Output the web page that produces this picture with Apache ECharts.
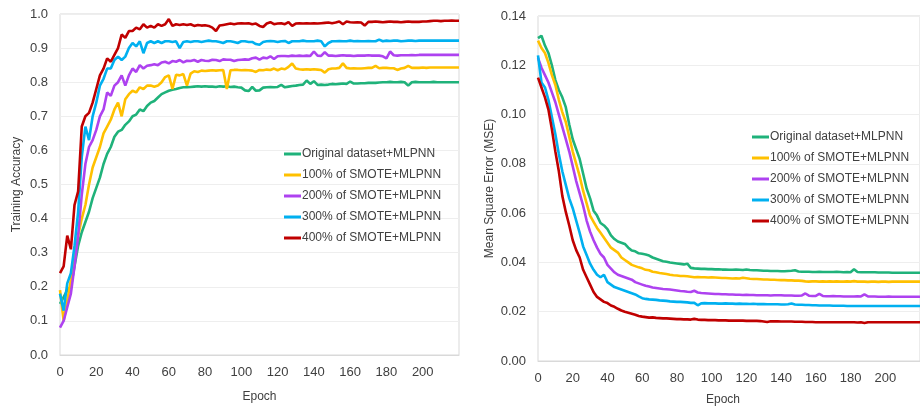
<!DOCTYPE html>
<html>
<head>
<meta charset="utf-8">
<script src="https://cdn.jsdelivr.net/npm/echarts@6/dist/echarts.min.js"></script>
<style>
html,body{margin:0;padding:0;background:#fff;}
#c{width:920px;height:408px;}
</style>
</head>
<body>
<div id="c"></div>
<script>
var seriesNames = ['Original dataset+MLPNN','100% of SMOTE+MLPNN','200% of SMOTE+MLPNN','300% of SMOTE+MLPNN','400% of SMOTE+MLPNN'];
var colors = ['#1FB27A','#FFC000','#AE42F0','#00B0F0','#C00000'];
var xTicks = [0,20,40,60,80,100,120,140,160,180,200];
var accTicks = [0.0,0.1,0.2,0.3,0.4,0.5,0.6,0.7,0.8,0.9,1.0];
var mseTicks = [0.00,0.02,0.04,0.06,0.08,0.10,0.12,0.14];

var epochs = [0,2,4,6,8,10,12,14,16,18,
20,22,24,26,28,30,32,34,36,38,
40,42,44,46,48,50,52,54,56,58,
60,62,64,66,68,70,72,74,76,78,
80,82,84,86,88,90,92,94,96,98,
100,102,104,106,108,110,112,114,116,118,
120,122,124,126,128,130,132,134,136,138,
140,142,144,146,148,150,152,154,156,158,
160,162,164,166,168,170,172,174,176,178,
180,182,184,186,188,190,192,194,196,198,
200,202,204,206,208,210,212,214,216,218,220];

var accOriginal = [0.15,0.17,0.19,0.20,0.26,0.32,0.36,0.39,0.42,0.46,
0.49,0.52,0.56,0.59,0.61,0.64,0.655,0.66,0.675,0.685,
0.70,0.705,0.72,0.715,0.73,0.74,0.745,0.755,0.765,0.77,
0.775,0.778,0.78,0.783,0.785,0.785,0.786,0.787,0.788,0.787,
0.788,0.787,0.787,0.786,0.788,0.787,0.788,0.786,0.787,0.785,
0.784,0.776,0.774,0.786,0.775,0.776,0.784,0.785,0.786,0.785,
0.786,0.792,0.785,0.787,0.789,0.79,0.792,0.793,0.805,0.795,
0.803,0.792,0.793,0.792,0.793,0.795,0.794,0.795,0.796,0.795,
0.802,0.796,0.796,0.797,0.797,0.798,0.798,0.798,0.799,0.8,
0.8,0.801,0.8,0.8,0.801,0.8,0.79,0.8,0.801,0.8,
0.8,0.8,0.8,0.801,0.8,0.8,0.8,0.8,0.8,0.8,0.8];
var acc100 = [0.19,0.10,0.16,0.22,0.30,0.35,0.40,0.44,0.50,0.55,
0.58,0.61,0.65,0.67,0.69,0.72,0.74,0.70,0.75,0.765,
0.775,0.77,0.785,0.78,0.79,0.79,0.787,0.79,0.80,0.815,
0.82,0.78,0.822,0.82,0.824,0.79,0.825,0.832,0.83,0.834,
0.833,0.834,0.835,0.834,0.835,0.836,0.78,0.835,0.836,0.836,
0.835,0.836,0.835,0.834,0.83,0.836,0.835,0.837,0.836,0.84,
0.835,0.84,0.838,0.845,0.855,0.84,0.838,0.837,0.838,0.837,
0.838,0.837,0.836,0.828,0.838,0.84,0.84,0.842,0.855,0.842,
0.84,0.841,0.84,0.84,0.841,0.842,0.842,0.848,0.841,0.842,
0.842,0.841,0.841,0.836,0.84,0.842,0.848,0.842,0.842,0.842,
0.843,0.842,0.843,0.843,0.843,0.843,0.843,0.843,0.843,0.843,0.843];
var acc200 = [0.08,0.10,0.14,0.18,0.26,0.35,0.47,0.56,0.61,0.63,
0.66,0.70,0.72,0.77,0.76,0.79,0.80,0.82,0.79,0.82,
0.84,0.83,0.85,0.84,0.848,0.85,0.853,0.85,0.858,0.86,
0.855,0.862,0.86,0.865,0.858,0.863,0.862,0.865,0.86,0.865,
0.863,0.862,0.866,0.865,0.862,0.867,0.866,0.866,0.862,0.865,
0.866,0.867,0.866,0.87,0.872,0.866,0.872,0.87,0.876,0.868,
0.876,0.877,0.877,0.876,0.878,0.877,0.878,0.877,0.878,0.877,
0.89,0.878,0.877,0.888,0.878,0.878,0.877,0.878,0.879,0.878,
0.878,0.877,0.878,0.878,0.878,0.879,0.878,0.878,0.878,0.876,
0.87,0.89,0.879,0.878,0.879,0.879,0.879,0.88,0.879,0.88,
0.88,0.88,0.88,0.88,0.88,0.88,0.88,0.88,0.88,0.88,0.88];
var acc300 = [0.18,0.13,0.21,0.24,0.32,0.42,0.58,0.67,0.63,0.70,
0.74,0.79,0.81,0.84,0.84,0.865,0.875,0.865,0.875,0.90,
0.915,0.905,0.92,0.885,0.915,0.92,0.915,0.92,0.915,0.92,
0.92,0.918,0.92,0.90,0.918,0.92,0.918,0.92,0.92,0.918,
0.92,0.922,0.92,0.92,0.918,0.915,0.92,0.92,0.918,0.915,
0.92,0.92,0.918,0.918,0.912,0.91,0.918,0.92,0.921,0.92,
0.918,0.92,0.921,0.915,0.92,0.92,0.92,0.922,0.92,0.92,
0.92,0.922,0.92,0.905,0.915,0.92,0.92,0.921,0.92,0.92,
0.922,0.92,0.921,0.92,0.92,0.921,0.92,0.92,0.925,0.92,
0.922,0.921,0.922,0.922,0.92,0.921,0.922,0.922,0.921,0.922,
0.922,0.922,0.922,0.922,0.922,0.922,0.922,0.922,0.922,0.922,0.922];
var acc400 = [0.24,0.26,0.35,0.31,0.44,0.48,0.67,0.70,0.71,0.74,
0.78,0.82,0.84,0.87,0.86,0.88,0.90,0.94,0.93,0.95,
0.95,0.96,0.955,0.97,0.96,0.965,0.96,0.97,0.965,0.97,
0.985,0.965,0.97,0.968,0.97,0.968,0.97,0.965,0.968,0.966,
0.967,0.965,0.96,0.95,0.966,0.968,0.97,0.972,0.97,0.972,
0.973,0.972,0.973,0.97,0.972,0.965,0.962,0.972,0.976,0.97,
0.972,0.973,0.97,0.976,0.965,0.972,0.973,0.972,0.973,0.972,
0.973,0.972,0.973,0.974,0.975,0.973,0.975,0.978,0.97,0.978,
0.976,0.975,0.976,0.975,0.966,0.977,0.977,0.978,0.977,0.976,
0.977,0.978,0.977,0.977,0.976,0.977,0.978,0.977,0.977,0.977,
0.978,0.978,0.979,0.98,0.98,0.979,0.98,0.98,0.981,0.98,0.98];

var mseOriginal = [0.131,0.132,0.128,0.125,0.12,0.114,0.11,0.107,0.103,0.096,
0.09,0.086,0.082,0.076,0.07,0.066,0.061,0.059,0.056,0.055,
0.0535,0.051,0.0495,0.0485,0.048,0.0475,0.046,0.0448,0.0445,0.0437,
0.0435,0.0432,0.0428,0.042,0.0415,0.041,0.0405,0.0403,0.04,0.0398,
0.0396,0.0394,0.0392,0.0395,0.0378,0.0376,0.0375,0.0374,0.0374,0.0373,
0.0373,0.0372,0.0372,0.0371,0.0371,0.037,0.037,0.0371,0.037,0.0369,
0.0371,0.0369,0.0368,0.0368,0.0367,0.0366,0.0366,0.0365,0.0365,0.0365,
0.0364,0.0364,0.0365,0.0366,0.0368,0.0363,0.0362,0.0362,0.0362,0.0361,
0.0361,0.0362,0.0361,0.0361,0.0361,0.0361,0.0362,0.0361,0.036,0.0361,
0.036,0.0372,0.0361,0.036,0.036,0.036,0.036,0.036,0.0359,0.0359,
0.0359,0.0359,0.0358,0.0358,0.0358,0.0358,0.0358,0.0358,0.0358,0.0358,0.0358];
var mse100 = [0.130,0.127,0.125,0.121,0.116,0.112,0.106,0.101,0.097,0.091,
0.085,0.080,0.075,0.069,0.064,0.059,0.0565,0.054,0.052,0.050,
0.048,0.046,0.045,0.044,0.042,0.041,0.040,0.039,0.0385,0.038,
0.0376,0.037,0.0368,0.0362,0.036,0.0357,0.0355,0.0353,0.035,0.0348,
0.0347,0.0345,0.0345,0.0344,0.0342,0.034,0.0341,0.034,0.034,0.0339,
0.034,0.0339,0.0338,0.0337,0.0337,0.0336,0.0335,0.0336,0.0335,0.0338,
0.0336,0.0334,0.0333,0.0333,0.0332,0.0331,0.0331,0.033,0.033,0.0329,
0.0328,0.0328,0.0327,0.0327,0.0326,0.0326,0.0325,0.0323,0.0322,0.0323,
0.0323,0.0322,0.0323,0.0322,0.0323,0.0322,0.0323,0.0322,0.0322,0.0323,
0.0322,0.0324,0.0322,0.0322,0.0322,0.0321,0.0322,0.0322,0.0321,0.0322,
0.0322,0.0321,0.0322,0.0322,0.0322,0.0322,0.0322,0.0322,0.0322,0.0322,0.0322];
var mse200 = [0.123,0.119,0.116,0.113,0.109,0.105,0.100,0.095,0.090,0.085,
0.079,0.073,0.068,0.063,0.057,0.0525,0.049,0.046,0.0435,0.042,
0.039,0.0375,0.036,0.035,0.0345,0.034,0.0335,0.033,0.032,0.0315,
0.031,0.0305,0.0302,0.0298,0.0296,0.0294,0.0292,0.0291,0.029,0.0288,
0.0286,0.0284,0.0283,0.0281,0.028,0.0285,0.0278,0.0276,0.0275,0.0274,
0.0273,0.0272,0.0272,0.0271,0.0271,0.027,0.027,0.0269,0.0269,0.0268,
0.0269,0.0268,0.0268,0.0267,0.0267,0.0267,0.0267,0.0266,0.0267,0.0267,
0.0267,0.0266,0.0266,0.0266,0.0265,0.0265,0.0266,0.0274,0.0265,0.0264,
0.0264,0.0272,0.0264,0.0263,0.0263,0.0264,0.0263,0.0263,0.0262,0.0262,
0.0262,0.0262,0.0263,0.0262,0.027,0.0262,0.0262,0.0262,0.0261,0.0261,
0.0261,0.0262,0.0261,0.0261,0.0261,0.0261,0.0261,0.0261,0.0261,0.0261,0.0261];
var mse300 = [0.124,0.113,0.111,0.106,0.099,0.092,0.084,0.077,0.0715,0.066,
0.062,0.057,0.052,0.0465,0.043,0.0395,0.037,0.035,0.034,0.035,
0.032,0.031,0.030,0.0295,0.029,0.0285,0.028,0.0275,0.027,0.0262,
0.0255,0.0252,0.025,0.0249,0.0248,0.0246,0.0245,0.0244,0.0242,0.0241,
0.024,0.024,0.0239,0.0238,0.0236,0.0236,0.0226,0.0234,0.0235,0.0234,
0.0234,0.0234,0.0233,0.0233,0.0234,0.0233,0.0233,0.0232,0.0233,0.0232,
0.0232,0.0231,0.0232,0.0231,0.0231,0.0231,0.023,0.023,0.023,0.023,
0.0229,0.0229,0.023,0.0233,0.0229,0.0228,0.0228,0.0227,0.0227,0.0226,
0.0226,0.0225,0.0225,0.0225,0.0225,0.0224,0.0224,0.0224,0.0224,0.0223,
0.0223,0.0223,0.0223,0.0223,0.0223,0.0223,0.0223,0.0223,0.0223,0.0223,
0.0223,0.0223,0.0223,0.0223,0.0223,0.0223,0.0223,0.0223,0.0223,0.0223,0.0223];
var mse400 = [0.115,0.111,0.107,0.102,0.094,0.085,0.077,0.067,0.0605,0.055,
0.049,0.045,0.042,0.037,0.034,0.031,0.028,0.026,0.025,0.024,
0.0235,0.0225,0.022,0.0212,0.0205,0.02,0.0196,0.0192,0.0188,0.0183,
0.018,0.0178,0.0176,0.0177,0.0175,0.0174,0.0173,0.0173,0.0172,0.0171,
0.017,0.017,0.0169,0.0169,0.0168,0.0171,0.0168,0.0167,0.0167,0.0166,
0.0166,0.0166,0.0165,0.0165,0.0165,0.0164,0.0164,0.0164,0.0164,0.0164,
0.0163,0.0163,0.0163,0.0163,0.0162,0.016,0.0158,0.0161,0.0161,0.0161,
0.016,0.016,0.016,0.016,0.0159,0.0159,0.0159,0.0158,0.0158,0.0158,
0.0157,0.0157,0.0157,0.0157,0.0157,0.0157,0.0157,0.0157,0.0157,0.0157,
0.0157,0.0157,0.0156,0.0157,0.0154,0.0157,0.0157,0.0157,0.0157,0.0157,
0.0157,0.0157,0.0157,0.0157,0.0157,0.0157,0.0157,0.0157,0.0157,0.0157,0.0157];

var accSeries = [accOriginal, acc100, acc200, acc300, acc400];
var mseSeries = [mseOriginal, mse100, mse200, mse300, mse400];

var FONT = 'Liberation Sans';
var TXT = '#404040';

function pairs(arr){
  var out = [];
  for (var i = 0; i < epochs.length && i < arr.length; i++) out.push([epochs[i], arr[i]]);
  return out;
}

var series = [];
for (var k = 0; k < 5; k++) {
  series.push({
    name: seriesNames[k], type: 'line', xAxisIndex: 0, yAxisIndex: 0,
    data: pairs(accSeries[k]), showSymbol: false, symbol: 'none',
    lineStyle: {color: colors[k], width: 2.6}, itemStyle: {color: colors[k]},
    animation: false, z: 2 + k
  });
}
for (var k2 = 0; k2 < 5; k2++) {
  series.push({
    name: seriesNames[k2], type: 'line', xAxisIndex: 1, yAxisIndex: 1,
    data: pairs(mseSeries[k2]), showSymbol: false, symbol: 'none',
    lineStyle: {color: colors[k2], width: 2.6}, itemStyle: {color: colors[k2]},
    animation: false, z: 2 + k2
  });
}

function xAxisCfg(gi, showName){
  return {
    type: 'value', gridIndex: gi, min: 0, max: 220, interval: 20,
    name: showName ? 'Epoch' : '', nameLocation: 'middle', nameGap: 36,
    nameTextStyle: {fontFamily: FONT, fontSize: 12, color: TXT},
    axisLine: {show: true, lineStyle: {color: '#d9d9d9', width: 1}},
    axisTick: {show: false},
    splitLine: {show: false},
    axisLabel: {
      fontFamily: FONT, fontSize: 13, color: TXT, margin: 11, showMaxLabel: false,
      formatter: function(v){ return xTicks.indexOf(v) >= 0 ? String(v) : ''; }
    }
  };
}

var option = {
  backgroundColor: '#ffffff',
  animation: false,
  grid: [
    {left: 60, top: 14, width: 399, height: 347, show: true, borderColor: '#d9d9d9', borderWidth: 1, containLabel: false},
    {left: 538, top: 16, width: 390, height: 345, show: true, borderColor: '#d9d9d9', borderWidth: 1, containLabel: false}
  ],
  xAxis: [xAxisCfg(0, true), xAxisCfg(1, false)],
  yAxis: [
    {
      type: 'value', gridIndex: 0, min: 0, max: 1, interval: 0.1,
      name: 'Training Accuracy', nameLocation: 'middle', nameGap: 37, nameRotate: 90,
      nameTextStyle: {fontFamily: FONT, fontSize: 12, color: TXT},
      axisLine: {show: false}, axisTick: {show: false},
      splitLine: {show: true, lineStyle: {color: '#eeeeee', width: 1}},
      axisLabel: {fontFamily: FONT, fontSize: 13, color: TXT, margin: 12,
        formatter: function(v){ return accTicks[Math.round(v * 10)].toFixed(1); }}
    },
    {
      type: 'value', gridIndex: 1, min: 0, max: 0.14, interval: 0.02,
      name: 'Mean Square Error (MSE)', nameLocation: 'middle', nameGap: 42, nameRotate: 90,
      nameTextStyle: {fontFamily: FONT, fontSize: 12, color: TXT},
      axisLine: {show: false}, axisTick: {show: false},
      splitLine: {show: true, lineStyle: {color: '#eeeeee', width: 1}},
      axisLabel: {fontFamily: FONT, fontSize: 13, color: TXT, margin: 12,
        formatter: function(v){ return mseTicks[Math.round(v * 50)].toFixed(2); }}
    }
  ],
  legend: [
    {
      data: seriesNames, orient: 'vertical', left: 279, top: 142,
      icon: 'rect', itemWidth: 17, itemHeight: 3, itemGap: 7,
      textStyle: {fontFamily: FONT, fontSize: 12, color: TXT, lineHeight: 14, padding: [0,0,0,-4]},
      selectedMode: false
    },
    {
      data: seriesNames, orient: 'vertical', left: 747, top: 125,
      icon: 'rect', itemWidth: 17, itemHeight: 3, itemGap: 7,
      textStyle: {fontFamily: FONT, fontSize: 12, color: TXT, lineHeight: 14, padding: [0,0,0,-4]},
      selectedMode: false
    }
  ],
  graphic: [
    {type: 'text', left: 706, top: 394, style: {text: 'Epoch', font: '12px "Liberation Sans"', fill: TXT}}
  ],
  series: series
};

var chart = echarts.init(document.getElementById('c'), null, {renderer: 'canvas'});
chart.setOption(option);
</script>
</body>
</html>
